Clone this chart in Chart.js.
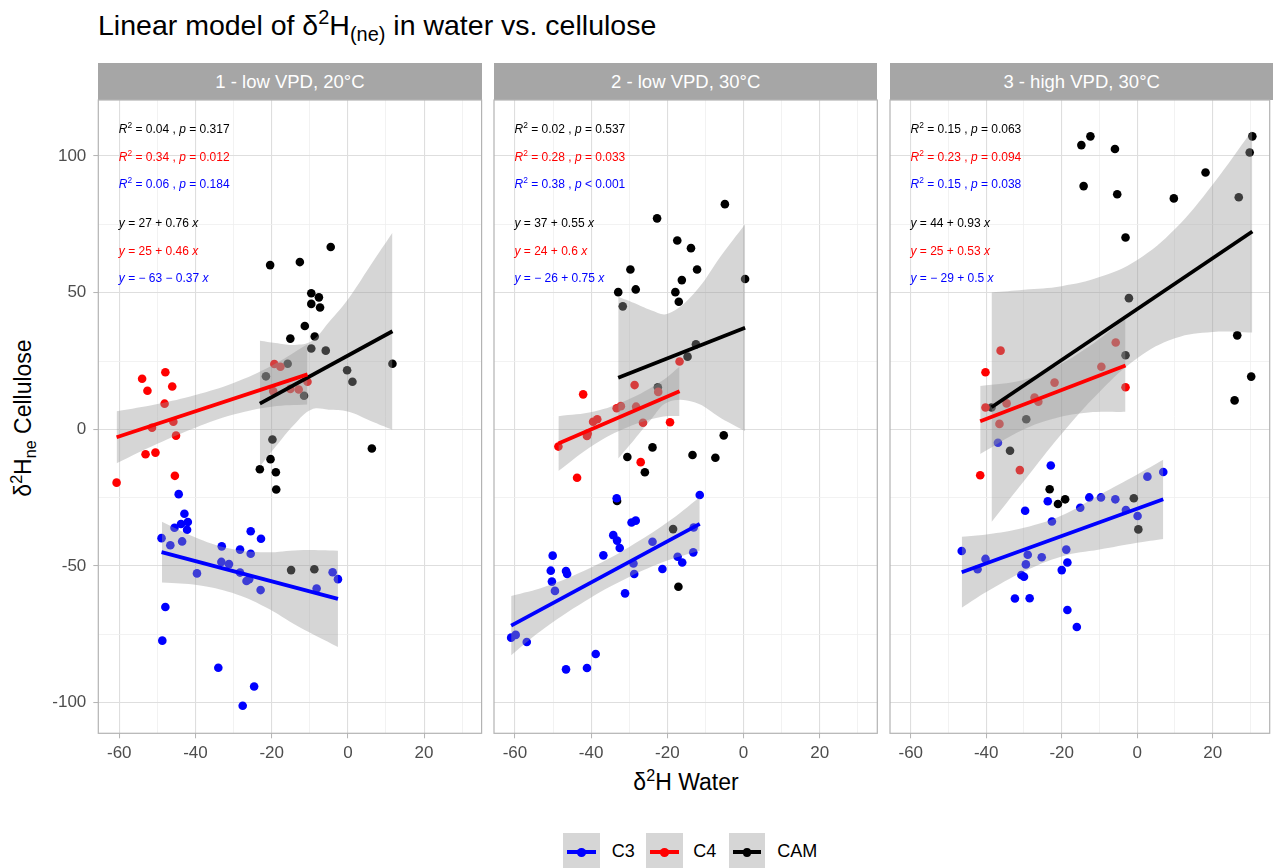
<!DOCTYPE html>
<html>
<head>
<meta charset="utf-8">
<script src="https://cdn.jsdelivr.net/npm/chart.js@4.4.0/dist/chart.umd.min.js"></script>
<style>
body { margin: 0; background: #fff; font-family: "Liberation Sans", Arial, sans-serif; }
#page { position: relative; width: 1274px; height: 868px; overflow: hidden; background: #fff; }
.abs { position: absolute; white-space: nowrap; }
.strip { position: absolute; top: 62.7px; height: 37.3px; background: #a6a6a6; color: #fff;
         font-size: 18.5px; line-height: 37.3px; text-align: center; }
.note { position: absolute; font-size: 12px; line-height: 12px; white-space: nowrap; }
sup, sub { font-size: 0.7em; line-height: 0; }
sup { vertical-align: 0.55em; }
sub { vertical-align: -0.3em; }
.key { position: absolute; top: 833px; width: 36.7px; height: 36.7px; background: #d6d6d6; }
.key .ln { position: absolute; left: 4px; right: 4px; top: 17.3px; height: 4px; }
.key .pt { position: absolute; left: 14px; top: 15px; width: 8.6px; height: 8.6px; border-radius: 50%; }
.lab { position: absolute; top: 841px; font-size: 18px; line-height: 20px; color: #000; }
</style>
</head>
<body>
<div id="page">
  <div class="abs" style="left:98px; top:11px; font-size:28.5px; line-height:28px;">Linear model of &delta;<sup>2</sup>H<sub>(ne)</sub> in water vs. cellulose</div>
  <div class="abs" style="left:686px; top:769px; transform:translateX(-50%); font-size:23px; line-height:26px;">&delta;<sup>2</sup>H Water</div>
  <div class="abs" style="left:23px; top:418px; transform:translate(-50%,-50%) rotate(-90deg); font-size:23px; line-height:26px;">&delta;<sup>2</sup>H<sub>ne</sub> Cellulose</div>
</div>

<script>
// ---- data ----
const panelTitles = ['1 - low VPD, 20°C', '2 - low VPD, 30°C', '3 - high VPD, 30°C'];
const groups = ['C3', 'C4', 'CAM'];
const groupColors = { C3: '#0000ff', C4: '#ff0000', CAM: '#000000' };
const xTickLabels = [-60, -40, -20, 0, 20];
const yTickLabels = [-100, -50, 0, 50, 100];

// points [x, y]
const p1C3 = [[-44.4,-23.7],[-42.9,-30.9],[-43.8,-34.6],[-42.0,-33.9],[-42.2,-36.7],[-45.5,-36.0],[-48.9,-39.8],[-46.6,-42.4],[-43.5,-41.0],[-25.5,-37.3],[-22.8,-40.0],[-33.1,-42.8],[-28.3,-44.0],[-25.5,-45.5],[-33.2,-48.5],[-31.2,-49.3],[-39.6,-52.7],[-28.3,-52.4],[-26.6,-55.5],[-25.9,-54.8],[-22.9,-58.8],[-8.2,-58.2],[-4.0,-52.3],[-2.6,-54.8],[-47.9,-65.0],[-48.7,-77.3],[-34.0,-87.2],[-24.6,-94.1],[-27.6,-101.1]];
const p1C4 = [[-54.0,18.5],[-47.9,20.9],[-52.6,14.1],[-46.1,15.7],[-48.1,9.4],[-19.3,23.9],[-17.7,22.9],[-10.6,17.4],[-19.6,14.0],[-15.1,14.8],[-12.9,14.6],[-45.8,2.8],[-51.4,0.6],[-45.1,-2.3],[-53.1,-9.1],[-50.5,-8.5],[-45.4,-17.0],[-60.7,-19.5]];
const p1CAM = [[-4.5,66.7],[-20.4,60.1],[-12.6,61.2],[-9.6,49.8],[-7.6,48.3],[-9.6,45.9],[-7.3,44.6],[-11.3,37.8],[-15.1,33.2],[-8.7,34.0],[-9.6,29.6],[-5.8,28.8],[-15.8,24.0],[11.7,24.0],[-21.5,19.4],[-0.2,21.6],[1.2,17.4],[-11.5,12.3],[-19.8,-3.7],[6.3,-7.0],[-20.3,-10.9],[-23.1,-14.6],[-18.9,-15.7],[-18.8,-22.0],[-14.9,-51.5],[-8.8,-51.2]];

const p2C3 = [[-11.5,-24.0],[-33.3,-25.2],[-29.4,-34.1],[-28.3,-33.4],[-34.2,-38.7],[-33.2,-40.7],[-32.5,-43.4],[-13.1,-35.9],[-23.9,-41.1],[-13.2,-45.0],[-17.3,-46.6],[-16.1,-48.7],[-50.1,-46.2],[-36.8,-46.1],[-28.9,-49.1],[-28.7,-52.9],[-21.3,-51.1],[-50.6,-51.7],[-46.6,-51.8],[-46.3,-52.9],[-50.3,-55.7],[-49.5,-59.1],[-31.1,-60.0],[-61.0,-76.2],[-59.8,-75.2],[-56.9,-77.8],[-38.8,-82.2],[-46.6,-87.8],[-41.1,-87.3]];
const p2C4 = [[-42.1,12.8],[-28.6,16.2],[-16.8,24.8],[-22.4,13.7],[-33.3,7.7],[-32.2,8.5],[-28.2,8.3],[-26.4,2.4],[-19.3,2.6],[-39.5,2.8],[-38.4,3.7],[-40.9,-1.5],[-41.1,-2.4],[-48.6,-6.3],[-27.0,-12.0],[-43.7,-17.7]];
const p2CAM = [[-4.9,82.4],[-22.7,77.2],[-17.4,69.1],[-13.8,66.3],[-12.2,58.5],[-29.7,58.5],[-16.2,54.6],[0.4,55.0],[-32.9,50.2],[-28.3,51.2],[-17.9,50.2],[-17.0,46.7],[-31.7,45.0],[-12.5,31.1],[-14.7,26.6],[-22.5,15.4],[-5.2,-2.2],[-23.9,-6.6],[-30.5,-10.1],[-13.4,-9.4],[-7.4,-10.4],[-25.9,-15.7],[-33.2,-26.2],[-18.5,-36.5],[-17.1,-57.6]];

const p3C3 = [[6.9,-15.6],[2.7,-17.3],[-22.9,-13.2],[-36.9,-4.9],[-12.7,-24.9],[-9.6,-24.9],[-5.8,-25.6],[-23.7,-26.3],[-15.1,-28.7],[-29.7,-29.8],[-3.0,-29.5],[0.1,-31.7],[-22.6,-33.7],[-18.8,-44.0],[-46.5,-44.5],[-40.2,-47.4],[-29.0,-45.9],[-25.3,-46.8],[-29.5,-49.4],[-42.3,-51.2],[-18.5,-48.7],[-20.0,-51.5],[-30.7,-53.3],[-30.0,-53.9],[-32.4,-61.9],[-28.5,-61.8],[-18.5,-66.1],[-16.0,-72.3]];
const p3C4 = [[-36.2,28.8],[-40.2,20.9],[-5.7,31.8],[-9.5,22.9],[-21.9,17.1],[-27.2,11.6],[-26.2,10.1],[-34.6,9.5],[-40.2,8.0],[-3.1,15.4],[-36.5,2.0],[-31.1,-14.9],[-41.6,-16.8]];
const p3CAM = [[30.5,107.2],[-12.4,107.2],[-14.8,104.0],[-5.9,102.6],[29.8,101.3],[18.1,94.0],[-14.2,89.0],[-5.3,86.0],[9.7,84.5],[26.9,84.9],[-3.1,70.2],[-2.2,48.0],[26.5,34.4],[-3.1,27.1],[30.2,19.3],[25.8,10.6],[-38.6,8.0],[-29.4,3.7],[-33.7,-7.8],[-23.2,-21.9],[-21.0,-27.3],[-19.1,-25.6],[-0.9,-25.2],[0.3,-36.6]];

// fitted lines, [x, y] at both ends
const p1C3Fit = [[-48.9,-44.9],[-2.6,-62.0]];
const p1C4Fit = [[-60.7,-2.9],[-10.6,20.1]];
const p1CAMFit = [[-23.1,9.4],[11.7,35.9]];
const p2C3Fit = [[-61.0,-71.8],[-11.5,-34.6]];
const p2C4Fit = [[-48.6,-5.2],[-16.8,13.9]];
const p2CAMFit = [[-32.9,18.9],[0.4,37.2]];
const p3C3Fit = [[-46.5,-52.3],[6.9,-25.6]];
const p3C4Fit = [[-41.6,3.0],[-3.1,23.4]];
const p3CAMFit = [[-38.6,8.1],[30.5,72.4]];

// confidence bands [x, lower, upper]
const p1C3Band = [[-48.8,-56.0,-33.8],[-39.2,-57.0,-40.0],[-30.4,-59.8,-43.8],[-21.7,-65.0,-45.0],[-12.9,-72.2,-44.2],[-2.6,-79.6,-44.4]];
const p1C4Band = [[-60.7,-12.4,6.6],[-50,-5.3,9.3],[-40,0.6,12.6],[-30,5.4,17.0],[-20,8.3,23.3],[-10.6,9.1,31.1]];
const p1CAMBand = [[-23.1,-13.6,32.4],[-19,-6.4,31.6],[-14,1.9,30.9],[-9.5,7.3,32.3],[-5,7.2,39.2],[0,6.5,47.5],[6,3.1,60.1],[11.7,-0.1,71.9]];
const p2C3Band = [[-61,-82.6,-61.0],[-52,-72.5,-57.5],[-40,-61.5,-50.5],[-30,-54.0,-43.0],[-20,-48.0,-34.0],[-11.5,-44.4,-24.8]];
const p2C4Band = [[-48.6,-15.2,4.8],[-39.2,-5.5,6.5],[-30.4,0.8,10.8],[-21.7,4.5,17.5],[-16.8,4.9,22.9]];
const p2CAMBand = [[-32.9,-10.7,48.5],[-28.7,-3.8,46.2],[-24.3,3.6,43.6],[-19.9,9.9,42.3],[-12.9,9.9,49.9],[-5.9,4.1,63.5],[0.4,-0.6,75.0]];
const p3C3Band = [[-46.5,-65.3,-39.3],[-40,-59.5,-38.5],[-30,-52.0,-36.0],[-20,-46.5,-31.5],[-10,-44.0,-24.0],[0,-41.5,-16.5],[6.9,-40.1,-11.1]];
const p3C4Band = [[-41.6,-9.0,15.9],[-30.4,-0.2,18.0],[-21.7,4.1,22.9],[-12.9,6.2,30.2],[-3.1,6.4,40.6]];
const p3CAMBand = [[-38.6,-33.9,50.1],[-30,-18.9,51.1],[-20,-1.6,52.4],[-10,13.7,55.7],[0,26.0,62.0],[10,33.3,73.3],[20,35.6,89.6],[30.5,35.4,109.4]];

// stats text, lines ordered CAM, C4, C3
const p1R2 = ['0.04', '0.34', '0.06'];
const p1P = ['= 0.317', '= 0.012', '= 0.184'];
const p1Eq = ['27 + 0.76', '25 + 0.46', '\u2212 63 \u2212 0.37'];
const p2R2 = ['0.02', '0.28', '0.38'];
const p2P = ['= 0.537', '= 0.033', '< 0.001'];
const p2Eq = ['37 + 0.55', '24 + 0.6', '\u2212 26 + 0.75'];
const p3R2 = ['0.15', '0.23', '0.15'];
const p3P = ['= 0.063', '= 0.094', '= 0.038'];
const p3Eq = ['44 + 0.93', '25 + 0.53', '\u2212 29 + 0.5'];

// ---- layout ----
const FONT = '"Liberation Sans", Arial, sans-serif';
const PANEL_TOP = 100, PANEL_BOTTOM = 733.3;
const X_MIN = -65.5, X_MAX = 35.1, Y_MIN = -111.2, Y_MAX = 120.5;
const panelLefts = [98.3, 494, 890];
const PANEL_W = 383.3;
const noteBaselines = [133.3, 161, 187.7, 227.3, 255, 282.3];

Chart.defaults.font.family = FONT;

const panelBorder = {
    id: 'panelBorder',
    afterDraw(chart) {
        const { ctx, chartArea: a } = chart;
        ctx.save();
        ctx.strokeStyle = '#b3b3b3';
        ctx.lineWidth = 1.2;
        ctx.strokeRect(a.left, a.top, a.right - a.left, a.bottom - a.top);
        ctx.restore();
    }
};

function toXY(arr, yi) {
    return arr.map(r => ({ x: r[0], y: r[yi] }));
}

function buildPanel(i, pts, fits, bands, r2, pv, eq) {
    const page = document.getElementById('page');
    const left = panelLefts[i];

    // strip
    const strip = document.createElement('div');
    strip.className = 'strip';
    strip.style.left = left + 'px';
    strip.style.width = PANEL_W + 'px';
    strip.textContent = panelTitles[i];
    page.appendChild(strip);

    // canvas geometry
    const canvasLeft = i === 0 ? 0 : Math.floor(left - 5);
    const canvasRight = i === 2 ? 1274 : Math.ceil(left + PANEL_W + 4.5);
    const yAxisW = i === 0 ? left : 0;
    const padL = i === 0 ? 0 : left - canvasLeft;
    const padR = canvasRight - (left + PANEL_W);
    const canvasTop = PANEL_TOP - 5, canvasH = 680;

    const box = document.createElement('div');
    box.className = 'abs';
    box.style.left = canvasLeft + 'px';
    box.style.top = canvasTop + 'px';
    const cv = document.createElement('canvas');
    cv.width = canvasRight - canvasLeft;
    cv.height = canvasH;
    cv.style.width = cv.width + 'px';
    cv.style.height = canvasH + 'px';
    box.appendChild(cv);
    page.appendChild(box);

    const datasets = [];
    groups.forEach(g => {
        datasets.push({
            type: 'scatter', data: toXY(pts[g], 1),
            backgroundColor: groupColors[g], borderColor: groupColors[g],
            pointRadius: 4.3, pointBorderWidth: 0, order: 3
        });
    });
    groups.forEach(g => {
        datasets.push({
            type: 'line', data: toXY(bands[g], 2), fill: '+1',
            backgroundColor: 'rgba(153,153,153,0.4)', borderColor: 'rgba(0,0,0,0)',
            borderWidth: 1, pointRadius: 0, tension: 0.4, order: 2
        });
        datasets.push({
            type: 'line', data: toXY(bands[g], 1), fill: false,
            borderColor: 'rgba(0,0,0,0)', borderWidth: 1, pointRadius: 0, tension: 0.4, order: 2
        });
    });
    groups.forEach(g => {
        datasets.push({
            type: 'line', data: toXY(fits[g], 1), fill: false,
            borderColor: groupColors[g], borderWidth: 3.8, pointRadius: 0, order: 1
        });
    });

    const isMajorX = v => xTickLabels.includes(v);
    const isMajorY = v => yTickLabels.includes(v);

    new Chart(cv.getContext('2d'), {
        type: 'scatter',
        data: { datasets },
        options: {
            responsive: false,
            animation: false,
            events: [],
            layout: { padding: { left: padL, right: padR, top: 5, bottom: 0 } },
            plugins: { legend: { display: false }, tooltip: { enabled: false } },
            scales: {
                x: {
                    type: 'linear', min: X_MIN, max: X_MAX,
                    border: { display: false },
                    afterFit: s => {
                        s.height = canvasTop + canvasH - PANEL_BOTTOM;
                        s.paddingLeft = 0; s.paddingRight = 0;
                    },
                    grid: {
                        color: c => (c.tick && isMajorX(c.tick.value)) ? '#dedede' : '#efefef',
                        lineWidth: c => (c.tick && isMajorX(c.tick.value)) ? 1.1 : 0.8,
                        tickColor: c => (c.tick && isMajorX(c.tick.value)) ? '#b3b3b3' : 'rgba(0,0,0,0)',
                        tickLength: 5, tickWidth: 1
                    },
                    ticks: {
                        stepSize: 10, includeBounds: false, autoSkip: false, maxRotation: 0,
                        padding: 5, color: '#4d4d4d', font: { size: 17 },
                        callback: v => isMajorX(v) ? String(v) : ''
                    }
                },
                y: {
                    type: 'linear', min: Y_MIN, max: Y_MAX,
                    border: { display: false },
                    afterFit: s => {
                        s.width = yAxisW;
                        s.paddingTop = 0; s.paddingBottom = 0;
                    },
                    grid: {
                        color: c => (c.tick && isMajorY(c.tick.value)) ? '#dedede' : '#efefef',
                        lineWidth: c => (c.tick && isMajorY(c.tick.value)) ? 1.1 : 0.8,
                        tickColor: c => (c.tick && isMajorY(c.tick.value)) ? '#b3b3b3' : 'rgba(0,0,0,0)',
                        drawTicks: i === 0, tickLength: 5, tickWidth: 1
                    },
                    ticks: {
                        display: i === 0, stepSize: 25, includeBounds: false, autoSkip: false,
                        padding: 7, color: '#4d4d4d', font: { size: 17 },
                        callback: v => isMajorY(v) ? String(v) : ''
                    }
                }
            }
        },
        plugins: [panelBorder]
    });

    // stats annotations
    const noteColors = [groupColors.CAM, groupColors.C4, groupColors.C3];
    for (let k = 0; k < 3; k++) {
        addNote(left + 20.5, noteBaselines[k], noteColors[k],
            '<i>R</i><sup>2</sup> = ' + r2[k] + ' , <i>p</i> ' + pv[k]);
        addNote(left + 20.5, noteBaselines[k + 3], noteColors[k],
            '<i>y</i> = ' + eq[k] + ' <i>x</i>');
    }
}

function addNote(x, baseline, color, html) {
    const d = document.createElement('div');
    d.className = 'note';
    d.style.left = x + 'px';
    d.style.top = (baseline - 10.2) + 'px';
    d.style.color = color;
    d.innerHTML = html;
    document.getElementById('page').appendChild(d);
}

function buildLegend() {
    const page = document.getElementById('page');
    const keyLefts = [563.3, 646, 728.7];
    const labLefts = [611.7, 693.3, 777.3];
    groups.forEach((g, k) => {
        const key = document.createElement('div');
        key.className = 'key';
        key.style.left = keyLefts[k] + 'px';
        key.innerHTML = '<div class="ln" style="background:' + groupColors[g] + '"></div>' +
                        '<div class="pt" style="background:' + groupColors[g] + '"></div>';
        page.appendChild(key);
        const lab = document.createElement('div');
        lab.className = 'lab';
        lab.style.left = labLefts[k] + 'px';
        lab.textContent = g;
        page.appendChild(lab);
    });
}

buildPanel(0, { C3: p1C3, C4: p1C4, CAM: p1CAM }, { C3: p1C3Fit, C4: p1C4Fit, CAM: p1CAMFit },
           { C3: p1C3Band, C4: p1C4Band, CAM: p1CAMBand }, p1R2, p1P, p1Eq);
buildPanel(1, { C3: p2C3, C4: p2C4, CAM: p2CAM }, { C3: p2C3Fit, C4: p2C4Fit, CAM: p2CAMFit },
           { C3: p2C3Band, C4: p2C4Band, CAM: p2CAMBand }, p2R2, p2P, p2Eq);
buildPanel(2, { C3: p3C3, C4: p3C4, CAM: p3CAM }, { C3: p3C3Fit, C4: p3C4Fit, CAM: p3CAMFit },
           { C3: p3C3Band, C4: p3C4Band, CAM: p3CAMBand }, p3R2, p3P, p3Eq);
buildLegend();
</script>
</body>
</html>
